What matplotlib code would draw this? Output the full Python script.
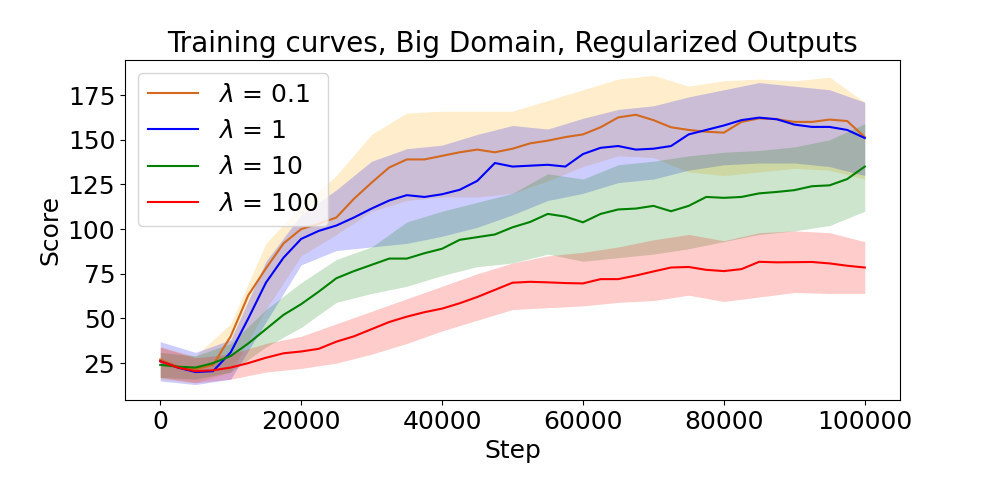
import matplotlib
matplotlib.use("Agg")
import matplotlib.pyplot as plt

# mean curves, read every 2500 steps
steps = [i * 2500 for i in range(41)]

score_01 = [27, 23, 21.5, 24, 40, 63, 78, 92, 100, 103, 106.5, 117, 126, 134.5, 139, 139, 141, 143, 144.5, 143,
            145, 148, 149.5, 151.5, 153, 157, 162.5, 164, 161, 157, 155.5, 154.5, 154, 160, 162, 161.5, 160, 160,
            161.3, 160.5, 151.5]
score_1 = [26, 22.5, 20, 20.5, 31, 50, 70, 84, 94.5, 99, 102, 106.5, 111.5, 116, 119, 118, 119.5, 122, 127, 137,
           135, 135.5, 136, 135, 142, 145.5, 146.5, 144.5, 145, 146.5, 153, 155.5, 158, 161, 162.4, 161.5, 158.5,
           157.2, 157.2, 155.5, 151]
score_10 = [24, 23, 22.5, 25, 29, 36, 44, 52, 58, 65, 72.5, 76.5, 80, 83.5, 83.5, 86.5, 89, 94, 95.5, 97,
            101, 104, 108.5, 107, 103.8, 108.5, 111, 111.5, 113, 110, 113, 118, 117.5, 118, 120, 120.8, 121.8,
            124, 124.5, 128, 135]
score_100 = [26, 22.5, 20.5, 21, 22.5, 25, 28, 30.5, 31.5, 33, 37, 40, 44, 48, 51, 53.5, 55.5, 58.5, 62, 66,
             70, 70.5, 70.2, 69.8, 69.6, 72, 72, 74, 76.3, 78.5, 78.8, 77.2, 76.5, 77.6, 81.7, 81.4, 81.5, 81.6,
             80.8, 79.5, 78.5]

# spread bands, read every 5000 steps
band_steps = [i * 5000 for i in range(21)]

lo_01 = [16, 14, 20, 55, 85, 97, 110, 116, 118, 118, 120, 127, 135, 141, 140, 132, 130, 132, 134, 133, 128]
hi_01 = [34, 29, 47, 92, 113, 130, 153, 165, 166, 166, 166, 172, 178, 184, 186, 180, 183, 184, 183, 185, 171]
lo_1 = [15, 13, 16, 48, 80, 88, 90, 92, 96, 101, 108, 116, 120, 126, 128, 133, 136, 137, 137, 135, 130]
hi_1 = [37, 31, 38, 82, 108, 122, 138, 145, 147, 153, 158, 156, 162, 167, 169, 174, 178, 182, 180, 178, 171]
lo_10 = [17, 16, 20, 34, 45, 59, 64, 68, 74, 79, 81, 86, 82, 84, 86, 89, 93, 97, 99, 102, 110]
hi_10 = [31, 29, 36, 55, 70, 83, 90, 104, 110, 115, 120, 131, 128, 136, 138, 141, 143, 144, 146, 150, 159]
lo_100 = [17, 14, 16, 20, 22, 25, 30, 36, 43, 49, 55, 56, 57, 59, 60, 63, 59.5, 62, 64.5, 64, 64]
hi_100 = [34, 28, 30, 36, 40, 47, 54, 61, 68, 75, 81, 85, 87, 90, 94, 97, 93.5, 98, 99, 98, 93]

labels = [r'$\lambda$ = 0.1', r'$\lambda$ = 1', r'$\lambda$ = 10', r'$\lambda$ = 100']

plt.rcParams['font.size'] = 18

fig, ax = plt.subplots(figsize=(10, 5), dpi=100)
fig.subplots_adjust(left=0.125, right=0.9, top=0.88, bottom=0.2)

series = [
    (score_01, lo_01, hi_01, '#d2691e', 'orange'),
    (score_1, lo_1, hi_1, 'blue', 'blue'),
    (score_10, lo_10, hi_10, 'green', 'green'),
    (score_100, lo_100, hi_100, 'red', 'red'),
]
for (mean, lo, hi, line_col, band_col), lab in zip(series, labels):
    ax.plot(steps, mean, color=line_col, label=lab)
    ax.fill_between(band_steps, lo, hi, color=band_col, alpha=0.2, linewidth=0)

ax.set_yticks([25, 50, 75, 100, 125, 150, 175])
ax.set_title('Training curves, Big Domain, Regularized Outputs', fontsize=20)
ax.set_xlabel('Step')
ax.set_ylabel('Score')
ax.legend(loc='upper left')

fig.savefig('out.png')
